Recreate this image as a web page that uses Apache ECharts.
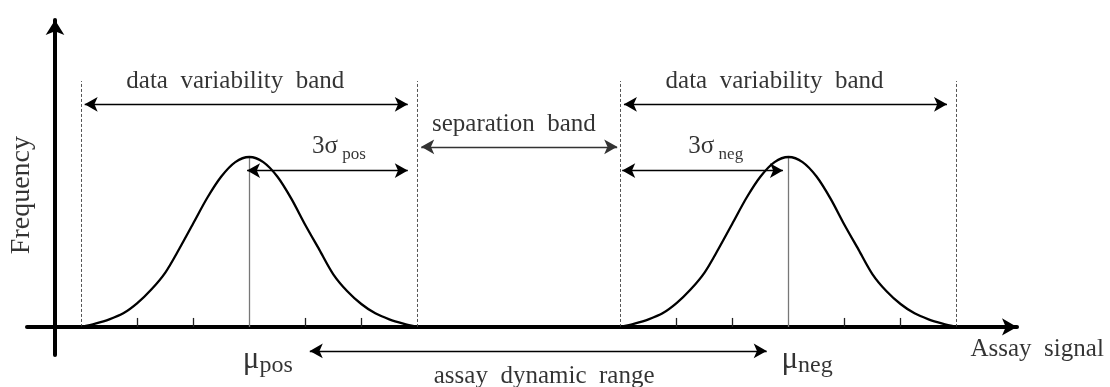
<!DOCTYPE html>
<html>
<head>
<meta charset="utf-8">
<title>Assay signal distributions</title>
<script src="https://cdn.jsdelivr.net/npm/echarts@6/dist/echarts.min.js"></script>
<style>
  html, body { margin: 0; padding: 0; background: #ffffff; }
  #chart { width: 1110px; height: 387px; }
</style>
</head>
<body>
<div id="chart"></div>
<script>
// Shape of each population, sampled every quarter sigma from -3σ to +3σ (relative frequency, peak = 1)
const sigmaOffsets = [-3, -2.75, -2.5, -2.25, -2, -1.75, -1.5, -1.25, -1, -0.75, -0.5, -0.25, 0,
                      0.25, 0.5, 0.75, 1, 1.25, 1.5, 1.75, 2, 2.25, 2.5, 2.75, 3];
const frequency = [0, 0.02, 0.045, 0.08, 0.14, 0.22, 0.32, 0.46, 0.61, 0.76, 0.885, 0.97, 1,
                   0.97, 0.885, 0.755, 0.6, 0.455, 0.31, 0.21, 0.135, 0.08, 0.045, 0.02, 0];

// Means and spread of the two populations on the signal axis
const muPos = 3.47;
const muNeg = 13.1;
const sigma = 1;
const bandWidthSigmas = 3;

// Minor ticks on the signal axis, in sigma steps around each mean
const tickOffsets = [-2, -1, 1, 2];

// Text
const bandText = 'data  variability  band';
const separationText = 'separation  band';
const rangeText = 'assay  dynamic  range';
const xAxisTitle = 'Assay  signal';
const yAxisTitle = 'Frequency';

// ---- layout (axis units) ----
const Y_DASH_TOP = 1.447;
const Y_BAND = 1.31;
const Y_SEP = 1.06;
const Y_SIG = 0.92;
const Y_RANGE = -0.141;
const TICK_H = 0.053;

const serif = '"Liberation Serif", "Times New Roman", Times, serif';

const posLo = muPos - bandWidthSigmas * sigma, posHi = muPos + bandWidthSigmas * sigma;
const negLo = muNeg - bandWidthSigmas * sigma, negHi = muNeg + bandWidthSigmas * sigma;

function curve(mu) {
  return sigmaOffsets.map((o, i) => [mu + o * sigma, frequency[i]]);
}
function seg(x1, y1, x2, y2) {
  return [{ coord: [x1, y1] }, { coord: [x2, y2] }];
}

const dashed = [posLo, posHi, negLo, negHi].map(x => seg(x, 0, x, Y_DASH_TOP));
const meanLines = [muPos, muNeg].map(m => seg(m, 0, m, 1));
const ticks = [];
[muPos, muNeg].forEach(m => tickOffsets.forEach(t => ticks.push(seg(m + t * sigma, 0, m + t * sigma, TICK_H))));

const arrows = [
  seg(posLo + 0.06, Y_BAND, posHi - 0.17, Y_BAND),
  seg(negLo + 0.06, Y_BAND, negHi - 0.17, Y_BAND),
  seg(muPos - 0.04, Y_SIG, posHi - 0.17, Y_SIG),
  seg(negLo + 0.03, Y_SIG, muNeg - 0.1, Y_SIG),
  seg(muPos + 1.08, Y_RANGE, muNeg - 0.39, Y_RANGE)
];
const sepArrow = [seg(posHi + 0.07, Y_SEP, negLo - 0.06, Y_SEP)];

const rich = {
  t: { fontFamily: serif, fontSize: 25, color: '#000', lineHeight: 30 },
  s: { fontFamily: serif, fontSize: 17, color: '#000', lineHeight: 33, verticalAlign: 'bottom' },
  mu: { fontFamily: serif, fontSize: 31, color: '#000', lineHeight: 36 },
  ms: { fontFamily: serif, fontSize: 24, color: '#000', lineHeight: 36, verticalAlign: 'bottom' },
  v: { fontFamily: serif, fontSize: 28, color: '#000' }
};

function textItem(x, y, formatter, extra) {
  return { value: [x, y], label: Object.assign({ formatter: formatter }, extra || {}) };
}

const labels = [
  textItem(muPos - 0.25, Y_BAND + 0.135, '{t|' + bandText + '}'),
  textItem(muNeg - 0.25, Y_BAND + 0.135, '{t|' + bandText + '}'),
  textItem((posHi + negLo) / 2 - 0.09, Y_SEP + 0.13, '{t|' + separationText + '}'),
  textItem(muPos + 1.6, Y_SIG + 0.14, '{t|3σ}{s| pos}'),
  textItem(muNeg - 1.3, Y_SIG + 0.14, '{t|3σ}{s| neg}'),
  textItem(muPos + 0.33, -0.195, '{mu|μ}{ms|pos}'),
  textItem(muNeg + 0.33, -0.195, '{mu|μ}{ms|neg}'),
  textItem((muPos + muNeg) / 2 + 0.45, -0.29, '{t|' + rangeText + '}'),
  textItem(17.54, -0.13, '{t|' + xAxisTitle + '}'),
  textItem(-0.6, 0.776, '{v|' + yAxisTitle + '}', { rotate: 90 })
];

const chart = echarts.init(document.getElementById('chart'), null, { renderer: 'canvas' });

chart.setOption({
  animation: false,
  backgroundColor: '#ffffff',
  grid: { left: 27, top: 20, width: 990, height: 335, containLabel: false, outerBoundsMode: 'none' },
  xAxis: {
    type: 'value', min: -0.5, max: 17.18,
    axisLine: { show: true, onZero: true, symbol: ['none', 'arrow'], symbolSize: [13, 15],
                lineStyle: { color: '#000', width: 4 } },
    axisTick: { show: false }, axisLabel: { show: false }, splitLine: { show: false }
  },
  yAxis: {
    type: 'value', min: -0.165, max: 1.806,
    axisLine: { show: true, onZero: true, symbol: ['none', 'arrow'], symbolSize: [14, 15],
                lineStyle: { color: '#000', width: 4 } },
    axisTick: { show: false }, axisLabel: { show: false }, splitLine: { show: false }
  },
  series: [
    {
      name: 'dashed', type: 'line', data: [], silent: true,
      markLine: { silent: true, symbol: ['none', 'none'], label: { show: false },
                  lineStyle: { color: '#555', width: 1, type: [3, 2] }, data: dashed }
    },
    {
      name: 'means', type: 'line', data: [], silent: true,
      markLine: { silent: true, symbol: ['none', 'none'], label: { show: false },
                  lineStyle: { color: '#777', width: 1.3, type: 'solid' }, data: meanLines }
    },
    {
      name: 'ticks', type: 'line', data: [], silent: true,
      markLine: { silent: true, symbol: ['none', 'none'], label: { show: false },
                  lineStyle: { color: '#222', width: 1.3, type: 'solid' }, data: ticks }
    },
    {
      name: 'positive', type: 'line', data: curve(muPos), smooth: 0.3,
      showSymbol: false, symbol: 'none', lineStyle: { color: '#000', width: 2.3 }, silent: true, z: 5
    },
    {
      name: 'negative', type: 'line', data: curve(muNeg), smooth: 0.3,
      showSymbol: false, symbol: 'none', lineStyle: { color: '#000', width: 2.3 }, silent: true, z: 5
    },
    {
      name: 'arrows', type: 'line', data: [], silent: true, z: 6,
      markLine: { silent: true, symbol: ['arrow', 'arrow'], symbolSize: [11, 13], label: { show: false },
                  lineStyle: { color: '#000', width: 1.3, type: 'solid' }, data: arrows }
    },
    {
      name: 'separation', type: 'line', data: [], silent: true, z: 6,
      markLine: { silent: true, symbol: ['arrow', 'arrow'], symbolSize: [11, 13], label: { show: false },
                  lineStyle: { color: '#333', width: 1.3, type: 'solid' }, data: sepArrow }
    },
    {
      name: 'labels', type: 'scatter', data: labels, clip: false, silent: true,
      symbolSize: 1, itemStyle: { color: 'rgba(0,0,0,0)' }, z: 10,
      label: { show: true, position: 'inside', rich: rich }
    }
  ]
});
</script>
</body>
</html>
